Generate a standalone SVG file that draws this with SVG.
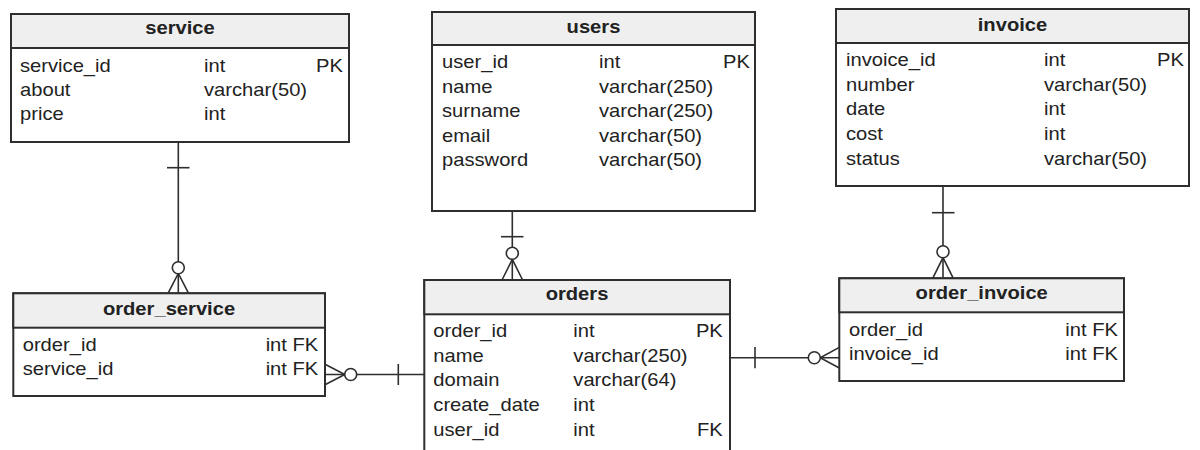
<svg xmlns="http://www.w3.org/2000/svg" width="1200" height="450" viewBox="0 0 1200 450">
  <style>
    .box { fill: #ffffff; stroke: #2e2e2e; stroke-width: 2; }
    .head { fill: #efefef; stroke: #2e2e2e; stroke-width: 2; }
    text { font-family: "Liberation Sans", Arial, sans-serif; font-size: 18px; fill: #222222; }
    .title { font-weight: bold; text-anchor: middle; }
    .end { text-anchor: end; }
    .rel line, .rel path { stroke: #2e2e2e; stroke-width: 1.6; fill: none; }
    .rel circle { fill: #ffffff; stroke: #2e2e2e; stroke-width: 1.6; }
  </style>

  <!-- connectors: crow's-foot relationships -->
  <g id="connectors" class="rel">
    <!-- service 1 : N order_service -->
    <line x1="178.3" y1="142" x2="178.3" y2="293.3"/>
    <line x1="167" y1="167.7" x2="189.5" y2="167.7"/>
    <path d="M168 293.3 L178.3 273.5 L188.6 293.3"/>
    <circle cx="178.3" cy="267.7" r="6"/>

    <!-- users 1 : N orders -->
    <line x1="512.3" y1="211" x2="512.3" y2="280"/>
    <line x1="501" y1="236.7" x2="523.5" y2="236.7"/>
    <path d="M502 280 L512.3 259.3 L522.6 280"/>
    <circle cx="512.3" cy="253.3" r="6"/>

    <!-- invoice 1 : N order_invoice -->
    <line x1="943" y1="186" x2="943" y2="278.3"/>
    <line x1="932" y1="212.7" x2="954.5" y2="212.7"/>
    <path d="M932.7 278.3 L943 257.6 L953.3 278.3"/>
    <circle cx="943" cy="251.7" r="6"/>

    <!-- orders 1 : N order_service -->
    <line x1="325" y1="374.5" x2="424.3" y2="374.5"/>
    <line x1="398.3" y1="364" x2="398.3" y2="385"/>
    <path d="M325 364.3 L344.8 374.5 L325 384.7"/>
    <circle cx="350.7" cy="374.5" r="6"/>

    <!-- orders 1 : N order_invoice -->
    <line x1="730" y1="357.7" x2="839.3" y2="357.7"/>
    <line x1="755" y1="347" x2="755" y2="368.2"/>
    <path d="M839.3 347.4 L820.2 357.7 L839.3 368"/>
    <circle cx="814.3" cy="357.7" r="6"/>
  </g>

  <!-- service -->
  <g id="service">
    <rect class="box" x="11" y="14" width="338" height="128"/>
    <rect class="head" x="11" y="14" width="338" height="34"/>
    <g transform="translate(180,0) scale(1.12,1)"><text class="title" x="0" y="34.5">service</text></g>
    <g transform="translate(20,0) scale(1.12,1)">
      <text x="0" y="72">service_id</text>
      <text x="0" y="96">about</text>
      <text x="0" y="120">price</text>
    </g>
    <g transform="translate(204,0) scale(1.12,1)">
      <text x="0" y="72">int</text>
      <text x="0" y="96">varchar(50)</text>
      <text x="0" y="120">int</text>
    </g>
    <g transform="translate(343,0) scale(1.12,1)">
      <text class="end" x="0" y="72">PK</text>
    </g>
  </g>

  <!-- users -->
  <g id="users">
    <rect class="box" x="432" y="12" width="323" height="199"/>
    <rect class="head" x="432" y="12" width="323" height="33"/>
    <g transform="translate(593.5,0) scale(1.12,1)"><text class="title" x="0" y="33.5">users</text></g>
    <g transform="translate(442,0) scale(1.12,1)">
      <text x="0" y="68.5">user_id</text>
      <text x="0" y="93">name</text>
      <text x="0" y="117.5">surname</text>
      <text x="0" y="142">email</text>
      <text x="0" y="166.5">password</text>
    </g>
    <g transform="translate(599,0) scale(1.12,1)">
      <text x="0" y="68.5">int</text>
      <text x="0" y="93">varchar(250)</text>
      <text x="0" y="117.5">varchar(250)</text>
      <text x="0" y="142">varchar(50)</text>
      <text x="0" y="166.5">varchar(50)</text>
    </g>
    <g transform="translate(750,0) scale(1.12,1)">
      <text class="end" x="0" y="68.5">PK</text>
    </g>
  </g>

  <!-- invoice -->
  <g id="invoice">
    <rect class="box" x="836" y="9" width="353" height="177"/>
    <rect class="head" x="836" y="9" width="353" height="34"/>
    <g transform="translate(1012.5,0) scale(1.12,1)"><text class="title" x="0" y="31">invoice</text></g>
    <g transform="translate(846,0) scale(1.12,1)">
      <text x="0" y="66.5">invoice_id</text>
      <text x="0" y="91">number</text>
      <text x="0" y="115.5">date</text>
      <text x="0" y="140">cost</text>
      <text x="0" y="164.8">status</text>
    </g>
    <g transform="translate(1044,0) scale(1.12,1)">
      <text x="0" y="66.5">int</text>
      <text x="0" y="91">varchar(50)</text>
      <text x="0" y="115.5">int</text>
      <text x="0" y="140">int</text>
      <text x="0" y="164.8">varchar(50)</text>
    </g>
    <g transform="translate(1184,0) scale(1.12,1)">
      <text class="end" x="0" y="66.5">PK</text>
    </g>
  </g>

  <!-- order_service -->
  <g id="order_service">
    <rect class="box" x="13.3" y="293.3" width="311.7" height="102.7"/>
    <rect class="head" x="13.3" y="293.3" width="311.7" height="34.4"/>
    <g transform="translate(169,0) scale(1.12,1)"><text class="title" x="0" y="315">order_service</text></g>
    <g transform="translate(22.7,0) scale(1.12,1)">
      <text x="0" y="350.7">order_id</text>
      <text x="0" y="375">service_id</text>
    </g>
    <g transform="translate(318.3,0) scale(1.12,1)">
      <text class="end" x="0" y="350.7">int FK</text>
      <text class="end" x="0" y="375">int FK</text>
    </g>
  </g>

  <!-- orders -->
  <g id="orders">
    <rect class="box" x="424.3" y="280" width="305.7" height="180"/>
    <rect class="head" x="424.3" y="280" width="305.7" height="34.3"/>
    <g transform="translate(577,0) scale(1.12,1)"><text class="title" x="0" y="300">orders</text></g>
    <g transform="translate(433.3,0) scale(1.12,1)">
      <text x="0" y="337.3">order_id</text>
      <text x="0" y="361.9">name</text>
      <text x="0" y="386.5">domain</text>
      <text x="0" y="411.1">create_date</text>
      <text x="0" y="435.7">user_id</text>
    </g>
    <g transform="translate(573.3,0) scale(1.12,1)">
      <text x="0" y="337.3">int</text>
      <text x="0" y="361.9">varchar(250)</text>
      <text x="0" y="386.5">varchar(64)</text>
      <text x="0" y="411.1">int</text>
      <text x="0" y="435.7">int</text>
    </g>
    <g transform="translate(722.8,0) scale(1.12,1)">
      <text class="end" x="0" y="337.3">PK</text>
      <text class="end" x="0" y="435.7">FK</text>
    </g>
  </g>

  <!-- order_invoice -->
  <g id="order_invoice">
    <rect class="box" x="839.3" y="278.3" width="284.7" height="102.7"/>
    <rect class="head" x="839.3" y="278.3" width="284.7" height="34"/>
    <g transform="translate(981.7,0) scale(1.12,1)"><text class="title" x="0" y="299.5">order_invoice</text></g>
    <g transform="translate(849,0) scale(1.12,1)">
      <text x="0" y="335.7">order_id</text>
      <text x="0" y="360">invoice_id</text>
    </g>
    <g transform="translate(1118,0) scale(1.12,1)">
      <text class="end" x="0" y="335.7">int FK</text>
      <text class="end" x="0" y="360">int FK</text>
    </g>
  </g>
</svg>
